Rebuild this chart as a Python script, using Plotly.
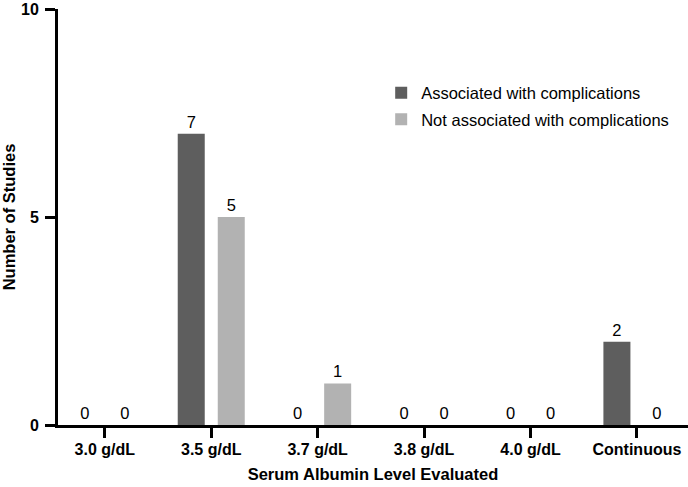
import plotly.graph_objects as go

categories = ["3.0 g/dL", "3.5 g/dL", "3.7 g/dL", "3.8 g/dL", "4.0 g/dL", "Continuous"]
associated = [0, 7, 0, 0, 0, 2]
not_associated = [0, 5, 1, 0, 0, 0]
series_names = ["Associated with complications", "Not associated with complications"]
y_ticks = [0, 5, 10]

FONT = "Liberation Sans, Arial, sans-serif"

fig = go.Figure()
fig.add_trace(go.Bar(
    x=categories, y=associated, name=series_names[0],
    marker=dict(color="#5e5e5e", line=dict(width=0)),
    text=associated, textposition="outside", cliponaxis=False,
    textfont=dict(family=FONT, size=16.5, color="#000000"),
    legendgroup="a",
))
fig.add_trace(go.Bar(
    x=categories, y=not_associated, name=series_names[1],
    marker=dict(color="#b2b2b2", line=dict(width=0)),
    text=not_associated, textposition="outside", cliponaxis=False,
    textfont=dict(family=FONT, size=16.5, color="#000000"),
    legendgroup="b",
))

fig.update_layout(
    width=688, height=487,
    margin=dict(l=58, r=0, t=9, b=62),
    paper_bgcolor="white", plot_bgcolor="white",
    barmode="group", bargap=0.248, bargroupgap=0.325,
    font=dict(family=FONT, color="#000000"),
    showlegend=True,
    legend=dict(
        x=0.513, y=0.84, xanchor="left", yanchor="top",
        font=dict(family=FONT, size=16.5, color="#000000"),
        bgcolor="rgba(0,0,0,0)", traceorder="grouped", tracegroupgap=2,
    ),
    xaxis=dict(
        range=[-0.44, 5.48],
        showline=True, linecolor="black", linewidth=3,
        ticks="outside", ticklen=10, tickwidth=3, tickcolor="black",
        tickfont=dict(family=FONT, size=16, weight="bold"),
        ticklabelstandoff=-2,
        showgrid=False, zeroline=False,
        title=dict(text="Serum Albumin Level Evaluated", standoff=12,
                   font=dict(family=FONT, size=16.5, weight="bold")),
    ),
    yaxis=dict(
        range=[0, 10],
        tickvals=y_ticks,
        showline=True, linecolor="black", linewidth=3,
        ticks="outside", ticklen=10, tickwidth=3, tickcolor="black",
        tickfont=dict(family=FONT, size=16, weight="bold"),
        ticklabelstandoff=3,
        showgrid=False, zeroline=False,
        title=dict(text="Number of Studies", standoff=4,
                   font=dict(family=FONT, size=16.5, weight="bold")),
    ),
)

fig.write_html(
    "out.html",
    config={"displayModeBar": False},
    post_script="document.body.style.margin='0';document.body.style.padding='0';",
)
